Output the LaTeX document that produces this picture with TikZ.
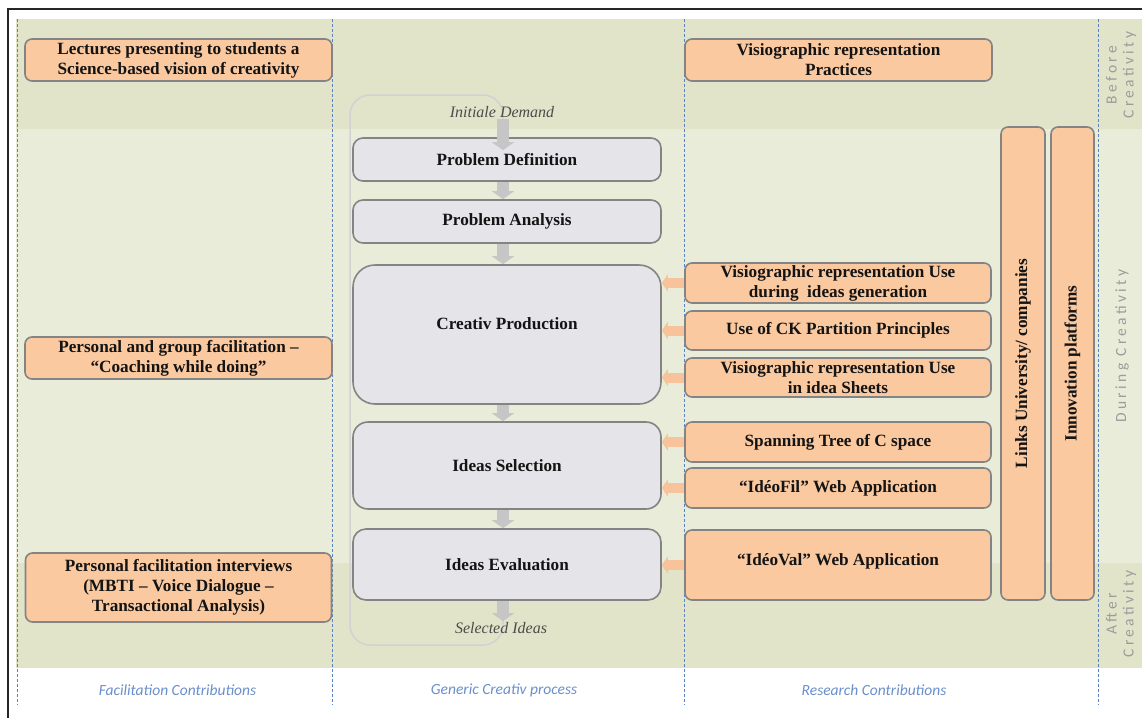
\documentclass[tikz,border=0pt]{standalone}
\usepackage{fontspec}
\setmainfont{Liberation Serif}
\newfontfamily\capfont{Carlito}
\newfontfamily\phasefont[LetterSpace=22]{Carlito}
\usetikzlibrary{arrows.meta}

\definecolor{bandDark}{HTML}{E2E4C9}
\definecolor{bandLight}{HTML}{EAECDA}
\definecolor{contribFill}{HTML}{FBC9A0}
\definecolor{boxEdge}{HTML}{848484}
\definecolor{procFill}{HTML}{E5E5E9}
\definecolor{flowGray}{HTML}{C6C6C6}
\definecolor{loopGray}{HTML}{D2D2D2}
\definecolor{feedOrange}{HTML}{F8C39A}
\definecolor{laneBlue}{HTML}{5A82BE}
\definecolor{capBlue}{HTML}{6A8FCB}
\definecolor{phaseGray}{HTML}{9C9C9C}

\begin{document}
\begin{tikzpicture}[x=1pt,y=-1pt,
  boxtext/.style={font=\fontsize{17.2}{20}\selectfont\bfseries, text=black!92, align=center},
  contrib/.style={boxtext, draw=boxEdge, line width=1.6pt, fill=contribFill,
    rounded corners=7pt, inner sep=0pt},
  proc/.style={boxtext, draw=boxEdge, line width=1.6pt, fill=procFill, inner sep=0pt,
    minimum width=308},
  endpoint/.style={font=\fontsize{16}{19}\selectfont\itshape, text=black!70, inner sep=1pt},
  lanecap/.style={font=\capfont\itshape\fontsize{15.5}{18}\selectfont, text=capBlue},
  phase/.style={font=\phasefont\fontsize{15.5}{17}\selectfont, text=phaseGray, align=center, rotate=90},
  lane/.style={draw=laneBlue, line width=1pt, dash pattern=on 3pt off 2pt},
  flow/.style={draw=flowGray, line width=12pt, -{Triangle[length=8pt,width=22pt]}},
  feed/.style={draw=feedOrange, line width=10pt, -{Triangle[length=6pt,width=17pt]}}
]
\useasboundingbox (0,0) rectangle (1142,718);
\fill[white] (0,0) rectangle (1142,718);

% phase bands
\fill[bandDark]  (16,19)  rectangle (1142,129);
\fill[bandLight] (16,129) rectangle (1142,563);
\fill[bandDark]  (16,563) rectangle (1142,668);

% frame
\draw[line width=1.2pt, black!85] (8,718) -- (8,9) -- (1142,9);

% lane separators
\foreach \lx in {17,332,684,1098}
  \draw[lane] (\lx,19) -- (\lx,705);

% feedback loop of the creative process
\draw[draw=loopGray, line width=1.5pt, rounded corners=20pt] (350,95) rectangle (503,645);
\coordinate (axis) at (503,0);

% facilitation contributions
\node[contrib, minimum width=307, minimum height=42] (lect) at (178.5,60)
  {Lectures presenting to students a\\Science-based vision of creativity};
\node[contrib, minimum width=307, minimum height=42] (coach) at (178.5,358)
  {Personal and group facilitation –\\“Coaching while doing”};
\node[contrib, minimum width=306, minimum height=69] (interv) at (178.5,587.5)
  {Personal facilitation interviews\\(MBTI – Voice Dialogue –\\Transactional Analysis)};

% generic creative process
\node[endpoint] (demand) at (502,112) {Initiale Demand};
\node[proc, minimum height=43, rounded corners=10pt] (pd) at (507,159.5) {Problem Definition};
\node[proc, minimum height=43, rounded corners=10pt] (pa) at (507,221.5) {Problem Analysis};
\node[proc, minimum height=139, rounded corners=22pt] (cp) at (507,334.5) {};
\node[boxtext] at ([yshift=11pt]cp.center) {Creativ Production};
\node[proc, minimum height=87, rounded corners=15pt] (is) at (507,465.5) {Ideas Selection};
\node[proc, minimum height=71, rounded corners=13pt] (ie) at (507,564.5) {Ideas Evaluation};
\node[endpoint] (selected) at (501,628) {Selected Ideas};

\draw[flow] (demand.south -| axis) -- ([yshift=-13pt]pd.north -| axis);
\draw[flow] (pd.south -| axis) -- (pa.north -| axis);
\draw[flow] (pa.south -| axis) -- (cp.north -| axis);
\draw[flow] (cp.south -| axis) -- (is.north -| axis);
\draw[flow] (is.south -| axis) -- (ie.north -| axis);
\draw[flow] (ie.south -| axis) -- (selected.north -| axis);

% research contributions
\node[contrib, minimum width=307, minimum height=42] (vprac) at (838.5,60)
  {Visiographic representation\\Practices};
\node[contrib, minimum width=306, minimum height=40] (vgen) at (838,283)
  {Visiographic representation Use\\during\ \ ideas generation};
\node[contrib, minimum width=306, minimum height=39] (ck) at (838,330.5)
  {Use of CK Partition Principles};
\node[contrib, minimum width=306, minimum height=39] (vsheet) at (838,377.5)
  {Visiographic representation Use\\in idea Sheets};
\node[contrib, minimum width=306, minimum height=40] (span) at (838,442)
  {Spanning Tree of C space};
\node[contrib, minimum width=306, minimum height=40] (fil) at (838,488)
  {“IdéoFil” Web Application};
\node[contrib, minimum width=306, minimum height=70] (val) at (838,565) {};
\node[boxtext] at ([yshift=4pt]val.center) {“IdéoVal” Web Application};

\node[contrib, rotate=90, minimum width=473, minimum height=44] (links) at (1023,363.5)
  {Links University/ companies};
\node[contrib, rotate=90, minimum width=473, minimum height=43] (innov) at (1072.5,363.5)
  {Innovation platforms};

\draw[feed] (vgen.west)   -- (vgen.west -| cp.east);
\draw[feed] (ck.west)     -- (ck.west -| cp.east);
\draw[feed] (vsheet.west) -- (vsheet.west -| cp.east);
\draw[feed] (span.west)   -- (span.west -| is.east);
\draw[feed] (fil.west)    -- (fil.west -| is.east);
\draw[feed] (val.west)    -- (val.west -| ie.east);

% phases
\node[phase] at (1121,75) {Before\\Creativity};
\node[phase] at (1122,346) {During Creativity};
\node[phase] at (1121,614) {After\\Creativity};

% lane captions
\node[lanecap] at (177.5,690) {Facilitation Contributions};
\node[lanecap] at (504,690) {Generic Creativ process};
\node[lanecap] at (874,690) {Research Contributions};
\end{tikzpicture}
\end{document}
